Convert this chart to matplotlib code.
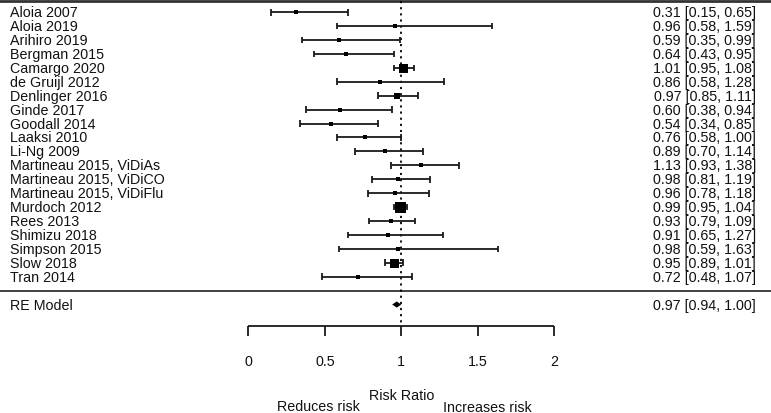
import matplotlib
matplotlib.use("Agg")
import matplotlib.pyplot as plt
import numpy as np

studies = ["Aloia 2007", "Aloia 2019", "Arihiro 2019", "Bergman 2015", "Camargo 2020",
           "de Gruijl 2012", "Denlinger 2016", "Ginde 2017", "Goodall 2014", "Laaksi 2010",
           "Li-Ng 2009", "Martineau 2015, ViDiAs", "Martineau 2015, ViDiCO",
           "Martineau 2015, ViDiFlu", "Murdoch 2012", "Rees 2013", "Shimizu 2018",
           "Simpson 2015", "Slow 2018", "Tran 2014"]
rr = [0.31, 0.96, 0.59, 0.64, 1.01, 0.86, 0.97, 0.60, 0.54, 0.76,
      0.89, 1.13, 0.98, 0.96, 0.99, 0.93, 0.91, 0.98, 0.95, 0.72]
lo = [0.15, 0.58, 0.35, 0.43, 0.95, 0.58, 0.85, 0.38, 0.34, 0.58,
      0.70, 0.93, 0.81, 0.78, 0.95, 0.79, 0.65, 0.59, 0.89, 0.48]
hi = [0.65, 1.59, 0.99, 0.95, 1.08, 1.28, 1.11, 0.94, 0.85, 1.00,
      1.14, 1.38, 1.19, 1.18, 1.04, 1.09, 1.27, 1.63, 1.01, 1.07]
# square size (px) ~ study weight
box_px = [4, 5, 5, 5, 9, 4, 6, 5, 5, 5, 4, 5, 5, 5, 11, 5, 4, 4, 9, 4]

re_est, re_lo, re_hi = 0.97, 0.94, 1.00
xticks = [0, 0.5, 1, 1.5, 2]

fig = plt.figure(figsize=(7.71, 4.14), dpi=100)
ax = fig.add_axes([0, 0, 1, 1])
ax.set_xlim(-1.623, 3.416)
ax.set_ylim(28.79, -0.948)
ax.axis("off")

plt.rcParams["font.family"] = ["Liberation Sans", "DejaVu Sans"]
fs = 10.3
col = "#111111"
px = 72 / 100.0

y = np.arange(len(studies))

# top and separator lines
ax.axhline(-0.8, color="#333333", lw=2.0)
ax.axhline(20.0, color="#333333", lw=1.3)

# reference line at 1
ax.vlines(1, -0.8, 22.5, colors="black", linestyles=(0, (1.2, 2.2)), lw=1.3)

# CIs
ax.hlines(y, lo, hi, colors="#1a1a1a", lw=1.3)
ax.vlines(lo, y - 0.24, y + 0.24, colors="#1a1a1a", lw=1.3)
ax.vlines(hi, y - 0.24, y + 0.24, colors="#1a1a1a", lw=1.3)
for yi, e, s in zip(y, rr, box_px):
    ax.plot(e, yi, marker="s", ms=s * px, color="black", mec="black", mew=0)

# RE diamond
ax.fill([re_lo, re_est, re_hi, re_est], [21, 20.78, 21, 21.22], color="black", lw=0)

# labels
for yi, name, e, l, h in zip(y, studies, rr, lo, hi):
    ax.text(-1.5575, yi, name, ha="left", va="center", fontsize=fs, color=col)
    ax.text(3.318, yi, f"{e:.2f} [{l:.2f}, {h:.2f}]", ha="right", va="center",
            fontsize=fs, color=col)
ax.text(-1.5575, 21, "RE Model", ha="left", va="center", fontsize=fs, color=col)
ax.text(3.318, 21, f"{re_est:.2f} [{re_lo:.2f}, {re_hi:.2f}]", ha="right",
        va="center", fontsize=fs, color=col)

# x axis
ax.hlines(22.52, xticks[0], xticks[-1], colors="#1a1a1a", lw=1.3)
ax.vlines(xticks, 22.52, 23.24, colors="#1a1a1a", lw=1.3)
for t in xticks:
    ax.text(t, 25.04, f"{t:g}", ha="center", va="center", fontsize=fs, color=col)

ax.text(1, 27.5, "Risk Ratio", ha="center", va="center", fontsize=fs, color=col)
ax.text(0.46, 28.3, "Reduces risk", ha="center", va="center", fontsize=fs, color=col)
ax.text(1.56, 28.38, "Increases risk", ha="center", va="center", fontsize=fs, color=col)

fig.savefig("out.png", dpi=100)
